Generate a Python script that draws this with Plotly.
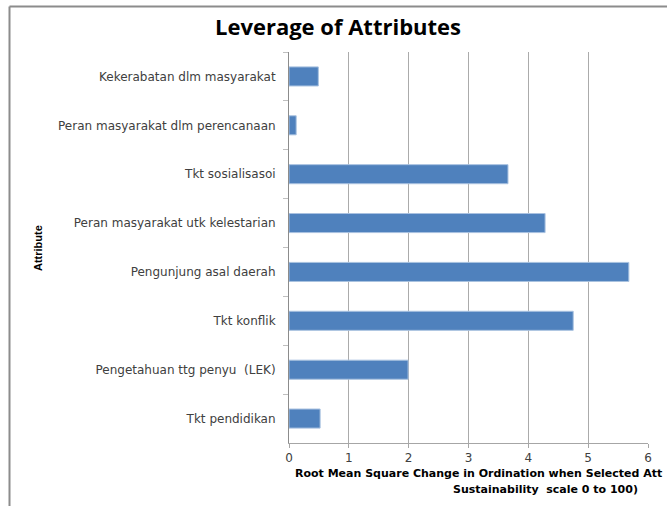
import plotly.graph_objects as go

# Attributes listed top to bottom
attributes = [
    "Kekerabatan dlm masyarakat",
    "Peran masyarakat dlm perencanaan",
    "Tkt sosialisasoi",
    "Peran masyarakat utk kelestarian",
    "Pengunjung asal daerah",
    "Tkt konflik",
    "Pengetahuan ttg penyu  (LEK)",
    "Tkt pendidikan",
]
rms_change = [0.49, 0.12, 3.66, 4.28, 5.68, 4.75, 1.99, 0.52]
x_ticks = [0, 1, 2, 3, 4, 5, 6]

W, H = 667, 506
L, R, T, B = 289, 648, 52, 443

fig = go.Figure(
    go.Bar(
        x=rms_change,
        y=attributes,
        orientation="h",
        width=0.39,
        marker=dict(color="#4f81bd", line=dict(color="#a9c2e0", width=1)),
    )
)

label_font = dict(family="DejaVu Sans", size=12, color="#404040")

fig.update_layout(
    width=W,
    height=H,
    margin=dict(l=L, r=W - R, t=T, b=H - B, pad=0),
    paper_bgcolor="white",
    plot_bgcolor="white",
    showlegend=False,
    title=dict(
        text="<b>Leverage of Attributes</b>",
        font=dict(family="Open Sans", size=22, color="#000000"),
        xref="container", yref="container",
        x=338 / W, y=1 - 27 / H,
        xanchor="center", yanchor="middle",
    ),
    xaxis=dict(
        range=[0, 6],
        tickvals=x_ticks,
        ticktext=[str(v) for v in x_ticks],
        tickfont=label_font,
        showgrid=True,
        gridcolor="#ababab",
        gridwidth=1,
        showline=True,
        linecolor="#a6a6a6",
        linewidth=1,
        ticks="outside",
        ticklen=4,
        tickcolor="#a6a6a6",
        zeroline=False,
        fixedrange=True,
    ),
    yaxis=dict(
        categoryorder="array",
        categoryarray=attributes,
        autorange="reversed",
        tickfont=label_font,
        showline=True,
        linecolor="#8c8c8c",
        linewidth=1,
        ticks="outside",
        tickson="boundaries",
        ticklen=5,
        tickcolor="#bfbfbf",
        showgrid=False,
        ticklabelstandoff=10,
        fixedrange=True,
    ),
    bargap=0.61,
)

# Axis titles
fig.add_annotation(
    text="<b>Root Mean Square Change in Ordination when Selected Att</b>",
    xref="paper", yref="paper",
    x=(293 - L) / (R - L), y=(B - 474) / (B - T),
    xanchor="left", yanchor="middle", showarrow=False,
    font=dict(family="DejaVu Sans", size=11, color="#000000"),
)
fig.add_annotation(
    text="<b>Sustainability  scale 0 to 100)</b>",
    xref="paper", yref="paper",
    x=(545 - L) / (R - L), y=(B - 489) / (B - T),
    xanchor="center", yanchor="middle", showarrow=False,
    font=dict(family="DejaVu Sans", size=11, color="#000000"),
)
fig.add_annotation(
    text="<b>Attribute</b>",
    xref="paper", yref="paper",
    x=(38 - L) / (R - L), y=(B - 248) / (B - T),
    xanchor="center", yanchor="middle", showarrow=False, textangle=-90,
    font=dict(family="Liberation Sans", size=11, color="#000000"),
)

# Chart-area frame (left and top edges)
def px(xp):
    return (xp - L) / (R - L)

def py(yp):
    return (B - yp) / (B - T)

fig.add_shape(type="line", xref="paper", yref="paper",
              x0=px(9.5), y0=py(H + 2), x1=px(9.5), y1=py(6.5),
              line=dict(color="#8c8c8c", width=2))
fig.add_shape(type="line", xref="paper", yref="paper",
              x0=px(9.5), y0=py(6.5), x1=px(W + 2), y1=py(6.5),
              line=dict(color="#8c8c8c", width=2))

fig.write_html("out.html")
